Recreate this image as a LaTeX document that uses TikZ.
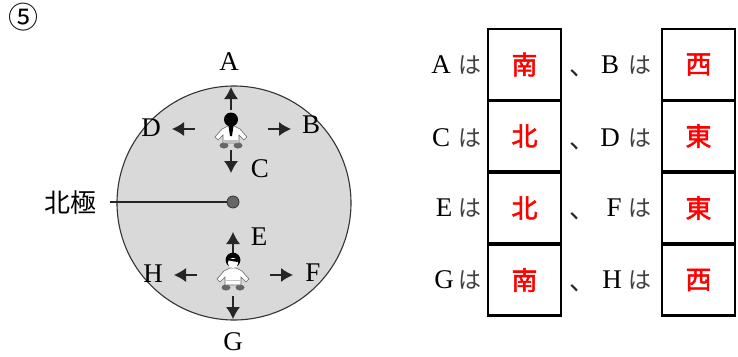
\documentclass[tikz,border=0pt]{standalone}
\usepackage{fontspec}
\setmainfont{Liberation Serif}
\newfontfamily\cjk{Noto Sans CJK JP}
\newfontfamily\cjkm[RawFeature={embolden=2}]{Noto Sans CJK JP}
\definecolor{disk}{gray}{0.85}
\definecolor{limb}{gray}{0.4}
\usetikzlibrary{arrows.meta}
\tikzset{
  x=1pt,y=-1pt,
  lab/.style={font=\fontsize{27}{27}\selectfont,inner sep=0pt},
  kj/.style={font=\cjk\fontsize{26}{26}\selectfont,inner sep=0pt},
  ha/.style={font=\cjk\fontsize{23}{23}\selectfont,inner sep=0pt,text=black!75},
  ans/.style={draw=black,line width=2.6pt,minimum width=73pt,minimum height=71pt,inner sep=0pt,text=red,font=\cjkm\fontsize{26}{26}\selectfont},
  ar/.style={-{Latex[length=12pt,width=14pt]},line width=1.1pt,black!85},
}
\newcommand{\bodyshape}{%
  \fill[limb] (-7,19.5) ellipse (4.5 and 3);
  \fill[limb] (7,19.5) ellipse (4.5 and 3);
  \draw[limb,fill=white,line width=.6pt] (-9,3) -- (-3,0) -- (3,0) -- (9,3) -- (16,11) -- (13,14) -- (8,9) -- (8,17) -- (-8,17) -- (-8,9) -- (-13,14) -- (-16,11) -- cycle;
}
\begin{document}
\begin{tikzpicture}
\useasboundingbox (0,0) rectangle (738,356);
% globe
\node[circle,draw=black!80,fill=disk,line width=1.1pt,minimum size=234pt,inner sep=0pt] (globe) at (234,203) {};
\node[circle,draw=black!80,fill=black!60,line width=.8pt,minimum size=12pt,inner sep=0pt] (pole) at (233,202) {};
\node[kj,anchor=center] (polelabel) at (70,203) {北極};
\coordinate (polestart) at (110,202);
\draw[line width=1.1pt,black!85] (polestart) -- (pole);
% arrow end points
\coordinate (ta0) at (231,110); \coordinate (ta1) at (231,87);
\coordinate (tl0) at (195,129); \coordinate (tl1) at (172,129);
\coordinate (tr0) at (268,129); \coordinate (tr1) at (291,129);
\coordinate (td0) at (231,150); \coordinate (td1) at (231,173);
\coordinate (ba0) at (233,253); \coordinate (ba1) at (233,232);
\coordinate (bl0) at (197,275); \coordinate (bl1) at (174,275);
\coordinate (br0) at (270,275); \coordinate (br1) at (293,275);
\coordinate (bd0) at (233,296); \coordinate (bd1) at (233,319);
\foreach \p in {ta,tl,tr,td,ba,bl,br,bd} \draw[ar] (\p0) -- (\p1);
% upper person, seen from behind
\begin{scope}[shift={(231,126)}]
  \bodyshape
  \fill[black] (0,-6.5) circle (7);
  \fill[black] (-2.5,0) -- (2.5,0) -- (1,10) -- (-1,10) -- cycle;
  \fill[limb!40] (-7,14) rectangle (7,17);
\end{scope}
% lower person, seen from the front
\begin{scope}[shift={(233,268)}]
  \bodyshape
  \fill[black] (0,-8) circle (7.4);
  \fill[white] (0,-5) circle (5.2);
  \fill[black] (-5,-9) -- (5,-9) -- (4.5,-6) -- (-4,-7.5) -- cycle;
  \fill[limb!40] (-7.5,12) rectangle (7.5,13);
\end{scope}
% letters
\node[lab] (A) at (229,62) {A};
\node[lab] (B) at (311,125) {B};
\node[lab] (C) at (260,169) {C};
\node[lab] (D) at (151,128) {D};
\node[lab] (E) at (259,237) {E};
\node[lab] (F) at (313,273) {F};
\node[lab] (G) at (233,342) {G};
\node[lab] (H) at (153,274) {H};
\node[anchor=center,inner sep=0pt,font=\cjk\fontsize{30}{30}\selectfont] (num) at (24,17.5) {⑤};
% answer boxes
\foreach \n/\y/\l/\r in {1/64.5/南/西,2/136/北/東,3/208/北/東,4/280/南/西}{
  \node[ans] (L\n) at (524.5,\y) {\l};
  \node[ans] (R\n) at (698.5,\y) {\r};
}
% row texts
\foreach \n/\y/\a/\ax/\b/\bx/\hx in {1/65/A/441/B/610/0,2/138/C/441/D/610/0,3/208/E/444/F/614/0,4/280/G/444/H/612/0}{
  \node[lab] (la\n) at (\ax,\y) {\a};
  \node[lab] (lb\n) at (\bx,\y) {\b};
  \node[ha] (ha\n) at (470,\y) {は};
  \node[ha] (hb\n) at (640,\y) {は};
  \node[kj,text=black!85] (co\n) at (582,{\y+8}) {、};
}
\end{tikzpicture}
\end{document}
